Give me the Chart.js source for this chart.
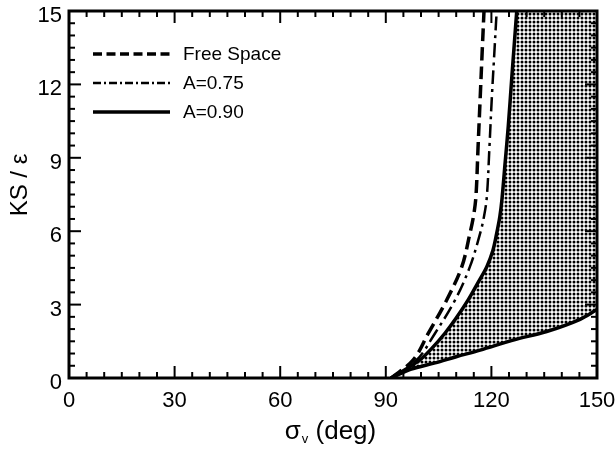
<!DOCTYPE html>
<html>
<head>
<meta charset="utf-8">
<title>KS / eps</title>
<script src="https://cdn.jsdelivr.net/npm/chart.js@4.4.1/dist/chart.umd.min.js"></script>
<style>
  html, body { margin: 0; padding: 0; background: #fff; }
</style>
</head>
<body>
<canvas id="Chart1" width="616" height="452"></canvas>

<script>
  // axes
  var xMin = 0, xMax = 150, yMin = 0, yMax = 15;
  var xTicks = [0, 30, 60, 90, 120, 150];
  var yTicks = [0, 3, 6, 9, 12, 15];

  // Free Space (dashed)
  var freeX = [91.5, 97.8, 102.1, 107.3, 111.6, 113.9, 114.9, 115.6, 116.2, 116.8, 117.4, 117.9];
  var freeY = [0, 0.74, 1.83, 3.19, 4.55, 5.91, 6.6, 7.4, 9.4, 11.4, 13.4, 15];

  // A=0.75 (dash-dot)
  var a75X = [91.5, 98.8, 104.0, 109.7, 113.9, 116.8, 117.9, 118.7, 119.4, 120.1, 120.8, 121.5];
  var a75Y = [0, 0.74, 1.83, 3.19, 4.55, 5.91, 6.6, 7.4, 9.3, 11.4, 13.2, 15];

  // A=0.90 (solid), upper and lower boundary
  var a90X = [91.5, 95.0, 99.7, 103.0, 106.8, 110.0, 113.4, 116.2, 118.7, 120.4, 121.5, 122.4, 123.0, 123.9, 124.8, 125.8, 127.2];
  var a90Y = [0, 0.3, 0.74, 1.2, 1.83, 2.45, 3.19, 3.9, 4.55, 5.2, 5.91, 6.6, 7.3, 8.8, 10.3, 12.3, 15];
  var lowX = [91.5, 97.0, 104.0, 110.0, 116.8, 126.2, 135.7, 145.2, 150];
  var lowY = [0, 0.35, 0.62, 0.87, 1.14, 1.55, 1.9, 2.4, 2.8];

  var legendLabels = ['Free Space', 'A=0.75', 'A=0.90'];

  function pts(xs, ys) {
    var out = [];
    for (var i = 0; i < xs.length; i++) out.push({ x: xs[i], y: ys[i] });
    return out;
  }

  // shaded region: upper curve, top-right corner, lower curve back
  // (corner points doubled so the spline keeps them sharp)
  var upper = pts(a90X, a90Y);
  var lower = pts(lowX, lowY).reverse();
  var region = upper.concat([upper[upper.length - 1], { x: xMax, y: yMax }, { x: xMax, y: yMax }, lower[0]], lower);

  var canvas = document.getElementById('Chart1');
  var ctx = canvas.getContext('2d');

  // dot pattern for the region
  var tile = document.createElement('canvas');
  tile.width = 4; tile.height = 4;
  var tg = tile.getContext('2d');
  tg.fillStyle = '#fff';
  tg.fillRect(0, 0, 4, 4);
  tg.fillStyle = '#000';
  tg.beginPath();
  tg.arc(2, 2, 1.5, 0, Math.PI * 2);
  tg.fill();
  var dots = ctx.createPattern(tile, 'repeat');

  var styles = [
    { dash: [13, 6], width: 3.5, legendDash: [9, 4.5] },
    { dash: [14, 5, 3, 5], width: 2.5, legendDash: [8, 3, 2, 3] },
    { dash: [], width: 3.5, legendDash: [] }
  ];
  var curveTension = 0.35;

  function drawLine(c, x1, y1, x2, y2) {
    c.beginPath();
    c.moveTo(x1, y1);
    c.lineTo(x2, y2);
    c.stroke();
  }

  var decor = {
    id: 'decor',
    afterDatasetsDraw: function (chart) {
      var c = chart.ctx, a = chart.chartArea;
      var sx = chart.scales.x, sy = chart.scales.y;
      c.save();
      c.strokeStyle = '#000';
      c.fillStyle = '#000';
      c.setLineDash([]);

      // inward ticks on all four sides
      c.lineWidth = 2;
      var v, p, len;
      for (v = xMin; v <= xMax; v += 5) {
        p = sx.getPixelForValue(v);
        len = v % 30 === 0 ? 12 : 6;
        drawLine(c, p, a.bottom, p, a.bottom - len);
        drawLine(c, p, a.top, p, a.top + len);
      }
      for (v = yMin; v <= yMax + 0.01; v += 0.5) {
        p = sy.getPixelForValue(v);
        len = Math.abs(v % 3) < 0.01 ? 12 : 6;
        drawLine(c, a.left, p, a.left + len, p);
        drawLine(c, a.right, p, a.right - len, p);
      }

      // frame
      c.lineWidth = 3;
      c.strokeRect(a.left, a.top, a.right - a.left, a.bottom - a.top);

      // legend
      c.font = '19px "Liberation Sans", Arial, sans-serif';
      c.textBaseline = 'middle';
      c.textAlign = 'left';
      for (var i = 0; i < legendLabels.length; i++) {
        var ly = 54 + i * 29;
        c.lineWidth = styles[i].width;
        c.setLineDash(styles[i].legendDash);
        drawLine(c, 93, ly, 170, ly);
        c.setLineDash([]);
        c.fillText(legendLabels[i], 183, ly + 1);
      }

      // x title: sigma with subscript v
      var big = '26px "Liberation Sans", Arial, sans-serif';
      var small = '13px "Liberation Sans", Arial, sans-serif';
      c.textBaseline = 'alphabetic';
      c.font = big;
      var w1 = c.measureText('\u03c3').width;
      var w3 = c.measureText(' (deg)').width;
      c.font = small;
      var w2 = c.measureText('v').width;
      var x0 = (a.left + a.right) / 2 - (w1 + w2 + w3) / 2 - 3;
      var base = 439;
      c.font = big;
      c.fillText('\u03c3', x0, base);
      c.font = small;
      c.fillText('v', x0 + w1 + 1, base + 4);
      c.font = big;
      c.fillText(' (deg)', x0 + w1 + w2 + 1, base);

      // y title
      c.translate(20, 185);
      c.rotate(-Math.PI / 2);
      c.textAlign = 'center';
      c.textBaseline = 'middle';
      c.font = '24px "Liberation Sans", Arial, sans-serif';
      c.fillText('KS / \u03b5', 0, 0);
      c.restore();
    }
  };

  var tickFont = { family: '"Liberation Sans", Arial, sans-serif', size: 22 };

  var Chart1 = new Chart(ctx, {
    type: 'scatter',
    data: {
      datasets: [
        {
          label: 'region',
          data: region,
          showLine: true,
          fill: 'shape',
          backgroundColor: dots,
          borderWidth: 0,
          pointRadius: 0,
          tension: curveTension,
          order: 5
        },
        {
          label: legendLabels[0],
          data: pts(freeX, freeY),
          showLine: true,
          borderColor: '#000',
          borderWidth: styles[0].width,
          borderDash: styles[0].dash,
          pointRadius: 0,
          tension: curveTension,
          fill: false
        },
        {
          label: legendLabels[1],
          data: pts(a75X, a75Y),
          showLine: true,
          borderColor: '#000',
          borderWidth: styles[1].width,
          borderDash: styles[1].dash,
          pointRadius: 0,
          tension: curveTension,
          fill: false
        },
        {
          label: legendLabels[2],
          data: pts(a90X, a90Y),
          showLine: true,
          borderColor: '#000',
          borderWidth: styles[2].width,
          pointRadius: 0,
          tension: curveTension,
          fill: false
        },
        {
          label: 'A=0.90 lower',
          data: pts(lowX, lowY),
          showLine: true,
          borderColor: '#000',
          borderWidth: styles[2].width,
          pointRadius: 0,
          tension: curveTension,
          fill: false
        }
      ]
    },
    options: {
      responsive: false,
      animation: false,
      devicePixelRatio: 1,
      layout: { padding: { top: 11, right: 19, left: 0, bottom: 0 } },
      plugins: {
        legend: { display: false },
        tooltip: { enabled: false }
      },
      scales: {
        x: {
          type: 'linear',
          min: xMin,
          max: xMax,
          afterBuildTicks: function (s) { s.ticks = xTicks.map(function (t) { return { value: t }; }); },
          ticks: { color: '#000', font: tickFont, padding: 10, maxRotation: 0, autoSkip: false },
          grid: { display: false, drawTicks: false },
          border: { display: false },
          afterFit: function (s) { s.height = 74; s.paddingLeft = 0; s.paddingRight = 0; }
        },
        y: {
          type: 'linear',
          min: yMin,
          max: yMax,
          afterBuildTicks: function (s) { s.ticks = yTicks.map(function (t) { return { value: t }; }); },
          ticks: { color: '#000', font: tickFont, padding: 7, labelOffset: 5, autoSkip: false },
          grid: { display: false, drawTicks: false },
          border: { display: false },
          afterFit: function (s) { s.width = 69; s.paddingTop = 0; s.paddingBottom = 0; }
        }
      }
    },
    plugins: [decor]
  });
</script>
</body>
</html>
